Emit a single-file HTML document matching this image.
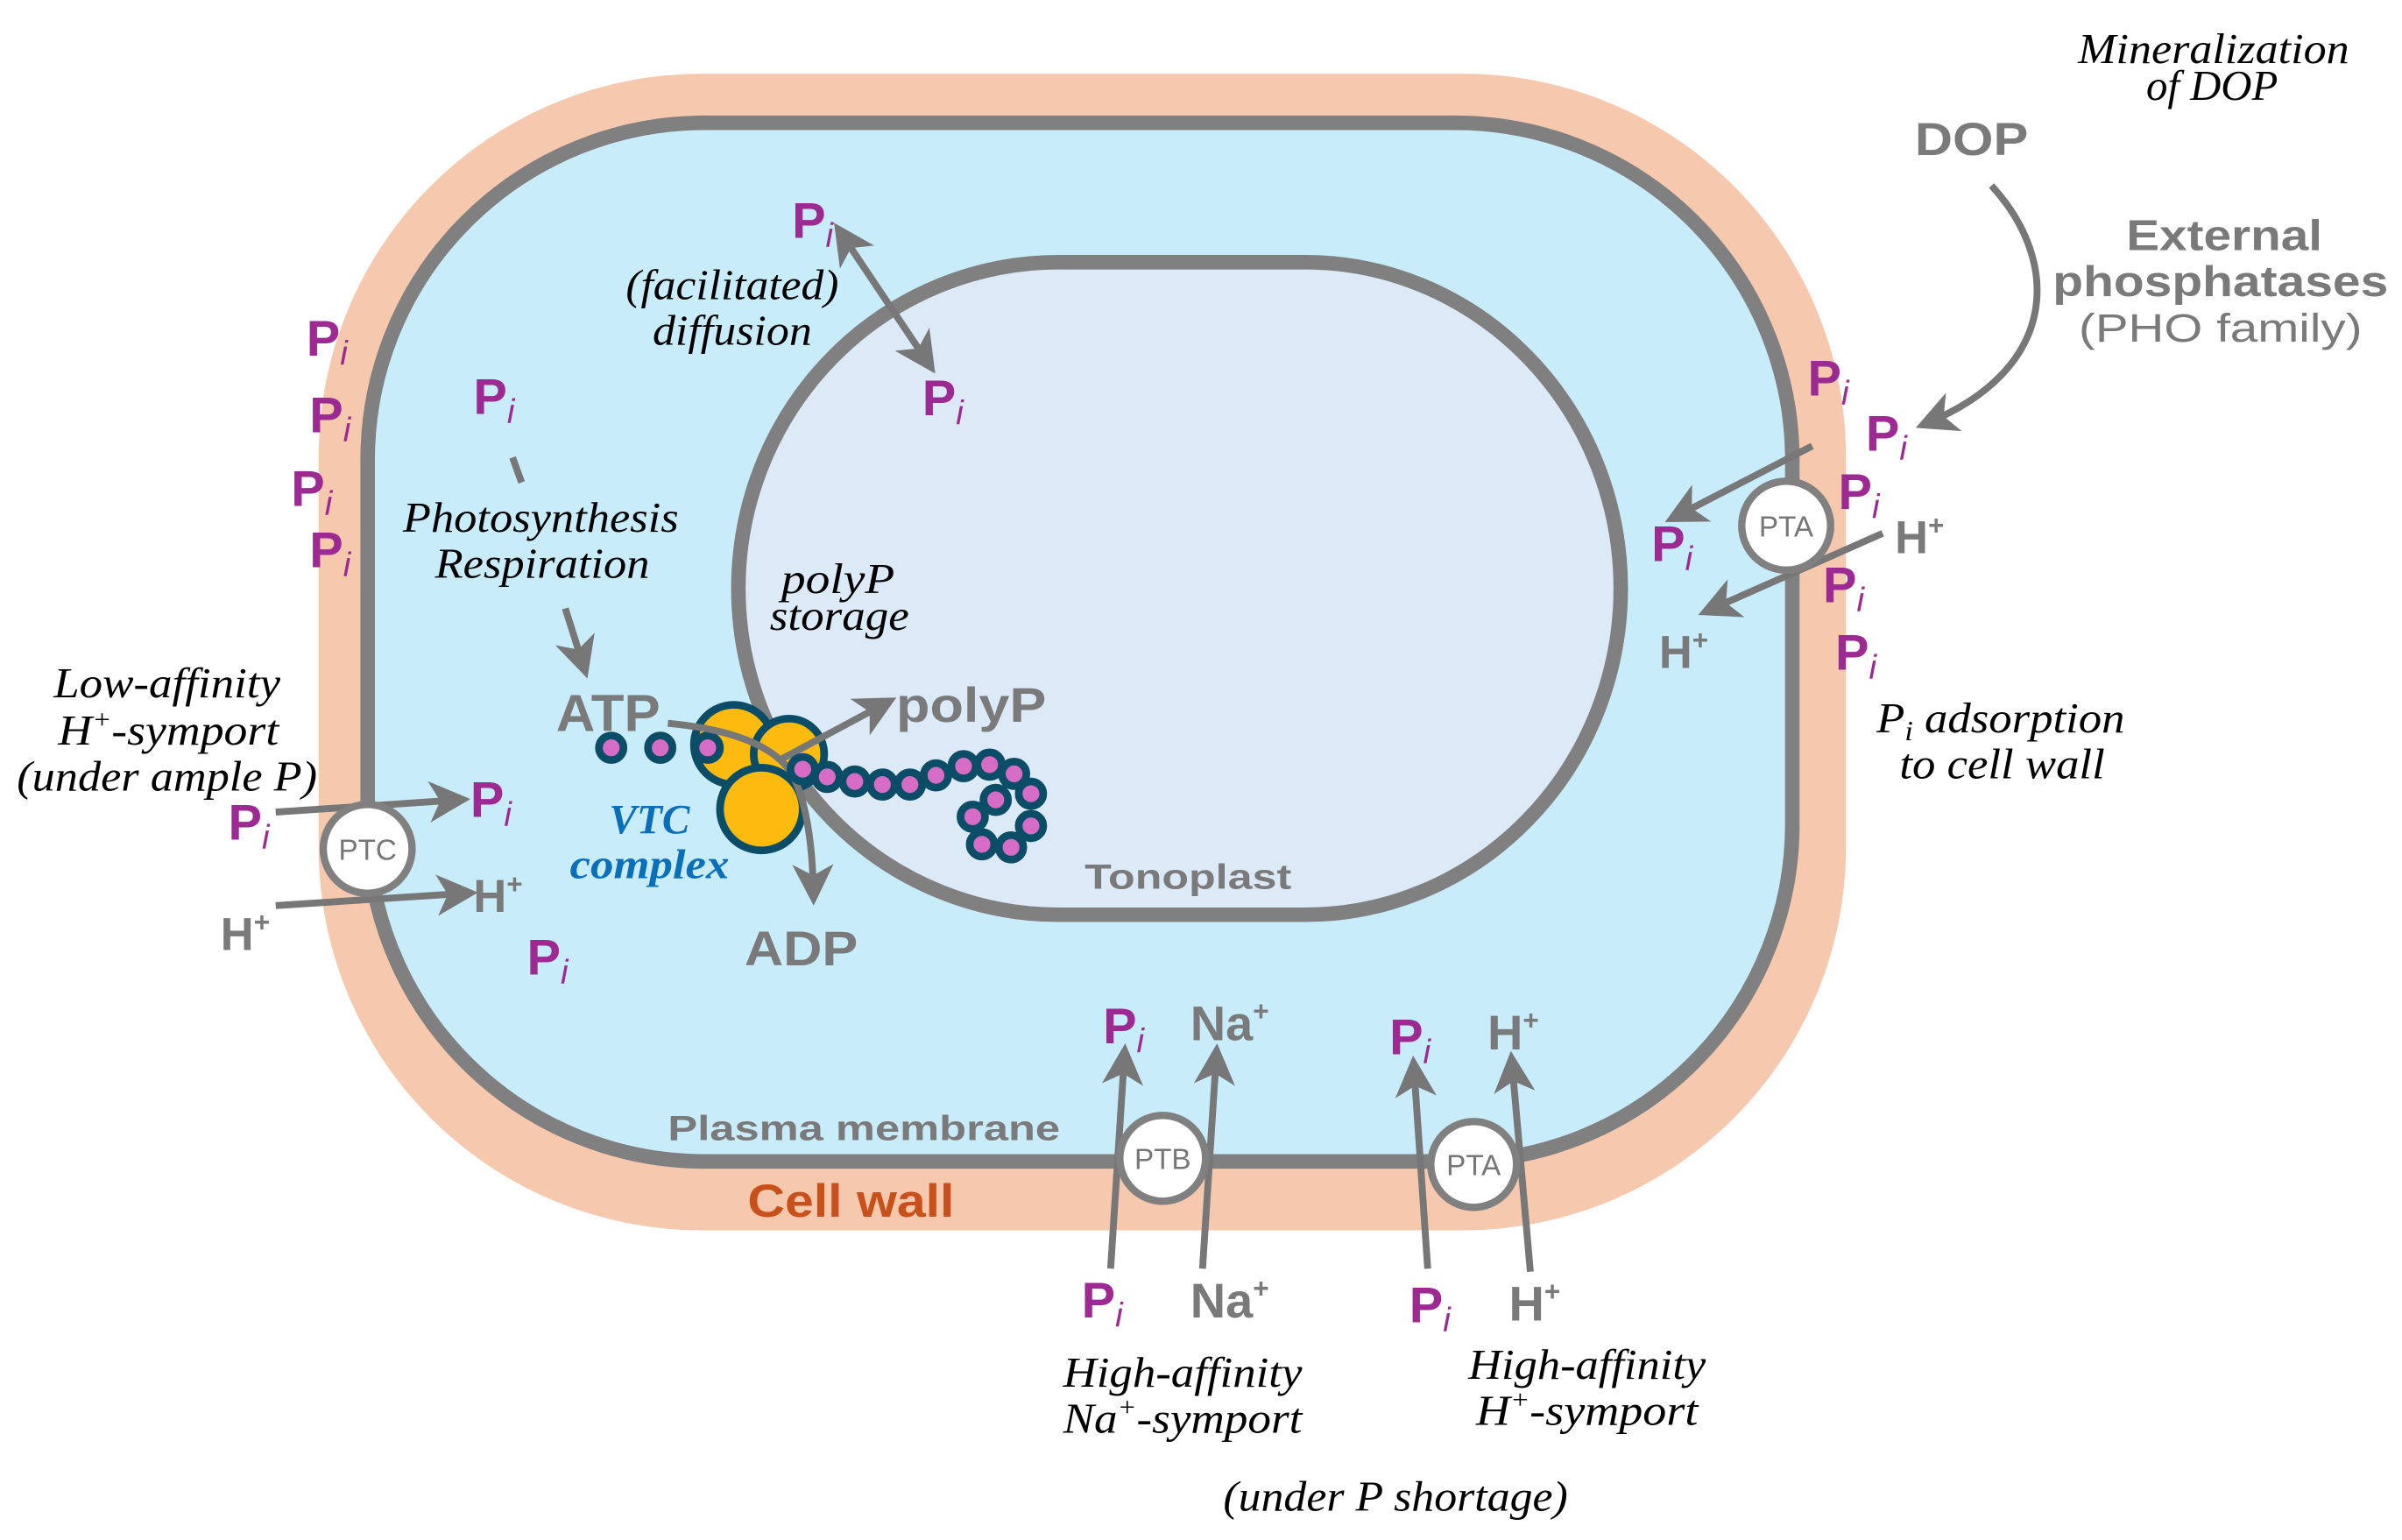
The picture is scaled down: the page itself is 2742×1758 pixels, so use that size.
<!DOCTYPE html>
<html><head><meta charset="utf-8">
<style>
html,body{margin:0;padding:0;background:#fff;}
svg{display:block;}
.it{font-family:"Liberation Serif",serif;font-style:italic;fill:#000;font-size:28px;}
.g{font-family:"Liberation Sans",sans-serif;font-weight:bold;fill:#7a7a7a;}
.pi{font-family:"Liberation Sans",sans-serif;font-weight:bold;fill:#9c2a92;font-size:33px;}
.pi tspan{font-weight:normal;font-style:italic;font-size:22px;}
.tp{font-family:"Liberation Sans",sans-serif;fill:#777;font-size:19px;}
</style></head>
<body>
<svg width="2742" height="1758" viewBox="0 0 1568 1005" xmlns="http://www.w3.org/2000/svg">
<defs>
<marker id="ah" markerWidth="6" markerHeight="6" refX="4.2" refY="3" orient="auto" markerUnits="strokeWidth">
<path d="M0,0 L6,3 L0,6 L1.6,3 Z" fill="#777"/>
</marker>
<marker id="ahs" markerWidth="6" markerHeight="6" refX="1.8" refY="3" orient="auto-start-reverse" markerUnits="strokeWidth">
<path d="M0,0 L6,3 L0,6 L1.6,3 Z" fill="#777"/>
</marker>
</defs>
<rect x="208" y="48" width="997" height="755" rx="250" ry="250" fill="#f6c8ae"/>
<rect x="240" y="80" width="930" height="678" rx="220" ry="220" fill="#c9ecfb" stroke="#808080" stroke-width="9.5"/>
<path d="M691 171 H852 A206 213 0 0 1 852 597 H691 A209 213 0 0 1 691 171 Z" fill="#dce9f6" stroke="#808080" stroke-width="9.5"/>

<text class="it" x="1445" y="41" font-size="28" text-anchor="middle" textLength="177" lengthAdjust="spacingAndGlyphs">Mineralization</text>
<text class="it" x="1444" y="65" font-size="28" text-anchor="middle" textLength="86" lengthAdjust="spacingAndGlyphs">of DOP</text>
<text class="g" x="1250" y="101" font-size="30" textLength="74" lengthAdjust="spacingAndGlyphs">DOP</text>
<text class="g" x="1388" y="163" font-size="28" textLength="128" lengthAdjust="spacingAndGlyphs">External</text>
<text class="g" x="1340" y="193" font-size="28" textLength="219" lengthAdjust="spacingAndGlyphs">phosphatases</text>
<text x="1357" y="223" font-family="Liberation Sans,sans-serif" font-size="26" fill="#7a7a7a" textLength="185" lengthAdjust="spacingAndGlyphs">(PHO family)</text>
<path d="M1300 121 C1345 170 1345 240 1258 276" fill="none" stroke="#777" stroke-width="4.5" marker-end="url(#ah)"/>

<text class="pi" x="1180" y="258">P<tspan dy="6">i</tspan></text>
<text class="pi" x="1218" y="294">P<tspan dy="6">i</tspan></text>
<text class="pi" x="1200" y="332">P<tspan dy="6">i</tspan></text>
<text class="pi" x="1190" y="393">P<tspan dy="6">i</tspan></text>
<text class="pi" x="1198" y="437">P<tspan dy="6">i</tspan></text>
<text class="pi" x="1078" y="366">P<tspan dy="6">i</tspan></text>
<text class="g" x="1237" y="361" font-size="30">H<tspan font-size="18" dy="-12">+</tspan></text>
<text class="g" x="1083" y="436" font-size="30">H<tspan font-size="18" dy="-12">+</tspan></text>
<line x1="1183" y1="291" x2="1094" y2="337" stroke="#777" stroke-width="4.5" marker-end="url(#ah)"/>
<line x1="1229" y1="348" x2="1116" y2="398" stroke="#777" stroke-width="4.5" marker-end="url(#ah)"/>
<circle cx="1166" cy="343" r="29" fill="#fff" stroke="#808080" stroke-width="4.8"/>
<text class="tp" x="1166" y="350" text-anchor="middle">PTA</text>
<line x1="1195" y1="329" x2="1229" y2="348" stroke="none"/>
<text class="it" x="1225" y="478" font-size="28" textLength="162" lengthAdjust="spacingAndGlyphs">P<tspan font-size="18" dy="5">i</tspan><tspan dy="-5"> adsorption</tspan></text>
<text class="it" x="1240" y="508" font-size="28" textLength="134" lengthAdjust="spacingAndGlyphs">to cell wall</text>

<text class="pi" x="200" y="232">P<tspan dy="6">i</tspan></text>
<text class="pi" x="202" y="282">P<tspan dy="6">i</tspan></text>
<text class="pi" x="190" y="330">P<tspan dy="6">i</tspan></text>
<text class="pi" x="202" y="370">P<tspan dy="6">i</tspan></text>

<text class="it" x="109" y="455" text-anchor="middle" textLength="148" lengthAdjust="spacingAndGlyphs">Low-affinity</text>
<text class="it" x="110" y="486" text-anchor="middle" textLength="144" lengthAdjust="spacingAndGlyphs">H<tspan font-size="17" dy="-11">+</tspan><tspan dy="11">-symport</tspan></text>
<text class="it" x="109" y="516" text-anchor="middle" textLength="196" lengthAdjust="spacingAndGlyphs">(under ample P)</text>

<line x1="180" y1="530" x2="299" y2="522" stroke="#777" stroke-width="4.5" marker-end="url(#ah)"/>
<line x1="180" y1="591" x2="304" y2="583" stroke="#777" stroke-width="4.5" marker-end="url(#ah)"/>
<circle cx="240" cy="554" r="29" fill="#fff" stroke="#808080" stroke-width="4.8"/>
<text class="tp" x="240" y="561" text-anchor="middle">PTC</text>
<text class="pi" x="149" y="548">P<tspan dy="6">i</tspan></text>
<text class="pi" x="307" y="533">P<tspan dy="6">i</tspan></text>
<text class="g" x="144" y="620" font-size="30">H<tspan font-size="18" dy="-12">+</tspan></text>
<text class="g" x="309" y="595" font-size="30">H<tspan font-size="18" dy="-12">+</tspan></text>
<text class="pi" x="344" y="636">P<tspan dy="6">i</tspan></text>

<text class="pi" x="309" y="270">P<tspan dy="6">i</tspan></text>
<line x1="334.6" y1="298.5" x2="340.5" y2="314.8" stroke="#777" stroke-width="4.5"/>
<text class="it" x="353" y="347" text-anchor="middle" textLength="180" lengthAdjust="spacingAndGlyphs">Photosynthesis</text>
<text class="it" x="354" y="377" text-anchor="middle" textLength="140" lengthAdjust="spacingAndGlyphs">Respiration</text>
<line x1="369" y1="397" x2="381" y2="435" stroke="#777" stroke-width="4.5" marker-end="url(#ah)"/>

<text class="pi" x="517" y="155">P<tspan dy="6">i</tspan></text>
<line x1="555" y1="161" x2="606" y2="237" stroke="#777" stroke-width="4.5" marker-start="url(#ahs)" marker-end="url(#ah)"/>
<text class="it" x="478" y="195" text-anchor="middle" textLength="139" lengthAdjust="spacingAndGlyphs">(facilitated)</text>
<text class="it" x="478" y="225" text-anchor="middle" textLength="104" lengthAdjust="spacingAndGlyphs">diffusion</text>
<text class="pi" x="602" y="271">P<tspan dy="6">i</tspan></text>

<text class="it" x="547" y="387" text-anchor="middle" textLength="74" lengthAdjust="spacingAndGlyphs">polyP</text>
<text class="it" x="548" y="411" text-anchor="middle" textLength="91" lengthAdjust="spacingAndGlyphs">storage</text>

<text class="g" x="363" y="477" font-size="34" textLength="68" lengthAdjust="spacingAndGlyphs">ATP</text>
<text class="g" x="585" y="471" font-size="32" textLength="98" lengthAdjust="spacingAndGlyphs">polyP</text>
<g stroke="#0b4d66" stroke-width="5">
<circle cx="479" cy="486" r="26" fill="#fdbb10"/>
<circle cx="515" cy="492" r="23" fill="#fdbb10"/>
<circle cx="497" cy="528" r="27" fill="#fdbb10"/>
</g>
<g fill="#d76cc6" stroke="#0b4d66" stroke-width="5">
<circle cx="399" cy="488" r="8"/>
<circle cx="431" cy="488" r="8"/>
<circle cx="462" cy="488" r="8"/>
</g>
<path d="M436 472 Q500 478 517 505 Q530 530 531 583" fill="none" stroke="#777" stroke-width="4.5" marker-end="url(#ah)"/>
<line x1="509" y1="496" x2="578" y2="459" stroke="#777" stroke-width="4.5" marker-end="url(#ah)"/>
<g fill="#d76cc6" stroke="#0b4d66" stroke-width="5">
<circle cx="524" cy="502" r="8"/>
<circle cx="540" cy="507" r="8"/>
<circle cx="558" cy="510" r="8"/>
<circle cx="576" cy="512" r="8"/>
<circle cx="594" cy="512" r="8"/>
<circle cx="611" cy="506" r="8"/>
<circle cx="629" cy="500" r="8"/>
<circle cx="646" cy="499" r="8"/>
<circle cx="662" cy="505" r="8"/>
<circle cx="673" cy="518" r="8"/>
<circle cx="673" cy="539" r="8"/>
<circle cx="660" cy="553" r="8"/>
<circle cx="641" cy="551" r="8"/>
<circle cx="635" cy="533" r="8"/>
<circle cx="650" cy="522" r="8"/>
</g>
<text x="424" y="544" font-family="Liberation Serif,serif" font-style="italic" font-weight="bold" font-size="27" fill="#0a6fba" text-anchor="middle">VTC</text>
<text x="424" y="573" font-family="Liberation Serif,serif" font-style="italic" font-weight="bold" font-size="27" fill="#0a6fba" text-anchor="middle" textLength="104" lengthAdjust="spacingAndGlyphs">complex</text>
<text class="g" x="486" y="630" font-size="32" textLength="74" lengthAdjust="spacingAndGlyphs">ADP</text>

<text class="g" x="708" y="580" font-size="23" textLength="135" lengthAdjust="spacingAndGlyphs">Tonoplast</text>
<text class="g" x="436" y="744" font-size="23" textLength="256" lengthAdjust="spacingAndGlyphs">Plasma membrane</text>
<text x="488" y="794" font-family="Liberation Sans,sans-serif" font-weight="bold" font-size="30" fill="#c8501a" textLength="135" lengthAdjust="spacingAndGlyphs">Cell wall</text>

<line x1="725" y1="828" x2="734" y2="689" stroke="#777" stroke-width="4.5" marker-end="url(#ah)"/>
<line x1="785" y1="828" x2="794" y2="689" stroke="#777" stroke-width="4.5" marker-end="url(#ah)"/>
<line x1="932" y1="828" x2="923" y2="697" stroke="#777" stroke-width="4.5" marker-end="url(#ah)"/>
<line x1="999" y1="830" x2="987" y2="694" stroke="#777" stroke-width="4.5" marker-end="url(#ah)"/>
<circle cx="759" cy="756" r="28" fill="#fff" stroke="#808080" stroke-width="4.8"/>
<text class="tp" x="759" y="763" text-anchor="middle">PTB</text>
<circle cx="962" cy="760" r="28" fill="#fff" stroke="#808080" stroke-width="4.8"/>
<text class="tp" x="962" y="767" text-anchor="middle">PTA</text>
<text class="pi" x="720" y="681">P<tspan dy="6">i</tspan></text>
<text class="g" x="777" y="679" font-size="32">Na<tspan font-size="18" dy="-13">+</tspan></text>
<text class="pi" x="907" y="688">P<tspan dy="6">i</tspan></text>
<text class="g" x="971" y="685" font-size="32">H<tspan font-size="18" dy="-13">+</tspan></text>
<text class="pi" x="706" y="860">P<tspan dy="6">i</tspan></text>
<text class="g" x="777" y="860" font-size="32">Na<tspan font-size="18" dy="-13">+</tspan></text>
<text class="pi" x="920" y="863">P<tspan dy="6">i</tspan></text>
<text class="g" x="985" y="862" font-size="32">H<tspan font-size="18" dy="-13">+</tspan></text>

<text class="it" x="772" y="905" text-anchor="middle" textLength="156" lengthAdjust="spacingAndGlyphs">High-affinity</text>
<text class="it" x="772" y="935" text-anchor="middle" textLength="156" lengthAdjust="spacingAndGlyphs">Na<tspan font-size="17" dy="-11">+</tspan><tspan dy="11">-symport</tspan></text>
<text class="it" x="1036" y="900" text-anchor="middle" textLength="155" lengthAdjust="spacingAndGlyphs">High-affinity</text>
<text class="it" x="1036" y="930" text-anchor="middle" textLength="145" lengthAdjust="spacingAndGlyphs">H<tspan font-size="17" dy="-11">+</tspan><tspan dy="11">-symport</tspan></text>
<text class="it" x="911" y="986" text-anchor="middle" textLength="225" lengthAdjust="spacingAndGlyphs">(under P shortage)</text>
</svg>
</body></html>
